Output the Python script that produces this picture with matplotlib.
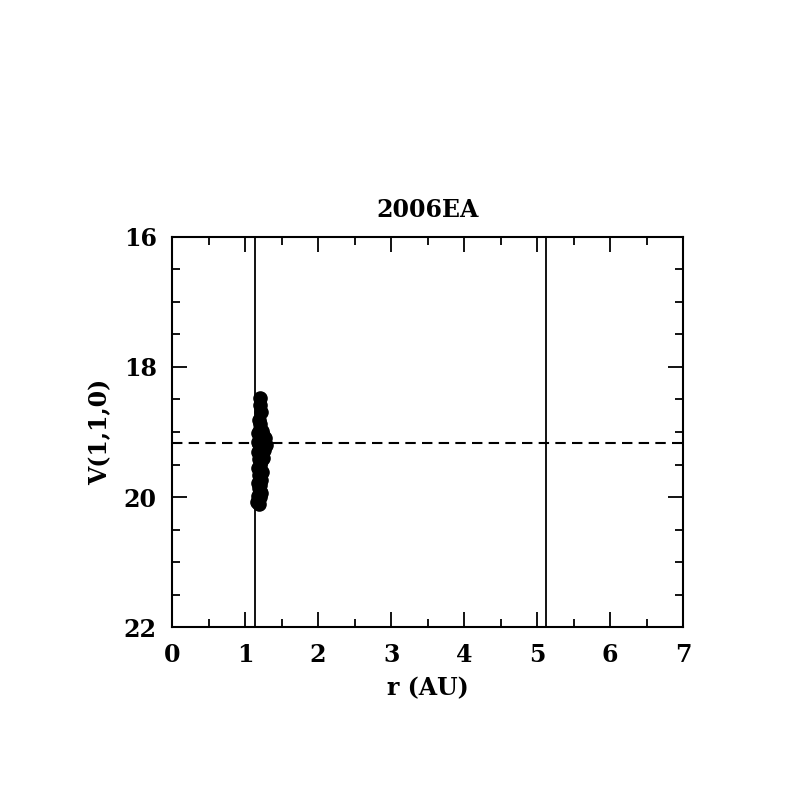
import matplotlib
matplotlib.use("Agg")
import matplotlib.pyplot as plt
from matplotlib.ticker import MultipleLocator

# heliocentric distance (AU) and reduced magnitude V(1,1,0)
r_au = [1.21, 1.20, 1.22, 1.19, 1.21, 1.20, 1.23, 1.18, 1.22, 1.20,
        1.21, 1.19, 1.24, 1.27, 1.28, 1.26, 1.22, 1.20, 1.18, 1.21,
        1.19, 1.22, 1.20, 1.18, 1.21, 1.23, 1.19, 1.20, 1.22, 1.17,
        1.21, 1.19, 1.20, 1.22, 1.18, 1.21, 1.16, 1.19, 1.24, 1.17]
v110 = [18.48, 18.58, 18.70, 18.82, 18.88, 18.95, 18.98, 19.02, 19.08, 19.12,
        19.15, 19.18, 19.05, 19.10, 19.20, 19.28, 19.22, 19.25, 19.30, 19.35,
        19.42, 19.45, 19.50, 19.55, 19.58, 19.62, 19.66, 19.70, 19.74, 19.78,
        19.82, 19.86, 19.90, 19.94, 19.98, 20.00, 20.08, 20.10, 19.40, 19.15]

v_mean = 19.17
r_lines = [1.14, 5.12]
title = "2006EA"

plt.rcParams['font.family'] = ['DejaVu Serif']
plt.rcParams['font.weight'] = 'bold'

fig = plt.figure(figsize=(7.97, 7.97), dpi=100)
ax = fig.add_axes([0.216, 0.213, 0.641, 0.490])

ax.scatter(r_au, v110, s=90, color='black', zorder=3)
for x in r_lines:
    ax.axvline(x, color='black', lw=1.3)
ax.axhline(v_mean, color='black', lw=1.5, ls=(0, (5, 3)))

ax.set_xlim(0, 7)
ax.set_ylim(22, 16)
ax.xaxis.set_major_locator(MultipleLocator(1))
ax.xaxis.set_minor_locator(MultipleLocator(0.5))
ax.yaxis.set_major_locator(MultipleLocator(2))
ax.yaxis.set_minor_locator(MultipleLocator(0.5))
ax.tick_params(which='both', direction='in', top=True, right=True,
               width=1.3, labelsize=17, pad=11)
ax.tick_params(which='major', length=11)
ax.tick_params(which='minor', length=6)
for sp in ax.spines.values():
    sp.set_linewidth(1.5)

ax.set_xlabel("r (AU)", fontsize=17, fontweight='bold', labelpad=7)
ax.set_ylabel("V(1,1,0)", fontsize=17, fontweight='bold', labelpad=8)
ax.set_title(title, fontsize=17, fontweight='bold', pad=14)

fig.savefig("out.png", dpi=100)
